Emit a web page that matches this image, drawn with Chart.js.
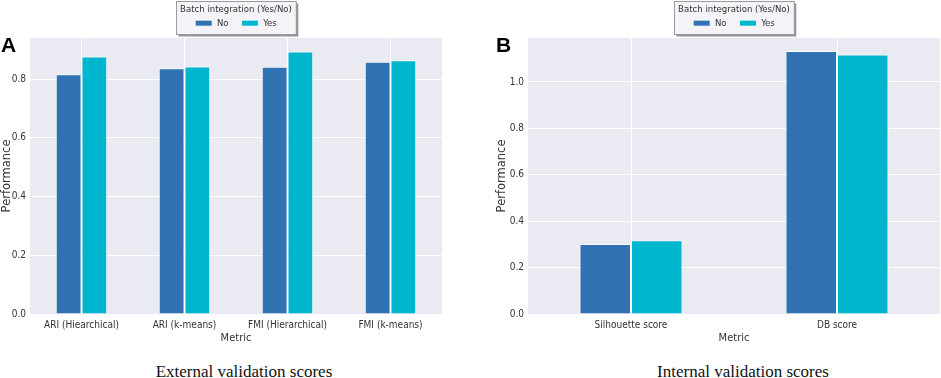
<!DOCTYPE html>
<html>
<head>
<meta charset="utf-8">
<script src="https://cdn.jsdelivr.net/npm/chart.js@4.4.1/dist/chart.umd.min.js"></script>
<style>
    body { margin: 0; background: #fff; width: 941px; height: 378px; overflow: hidden; position: relative; }
    .panel { position: absolute; top: 0; }
    .letter { position: absolute; top: 33px; font: bold 21px "Liberation Sans", Arial, sans-serif; color: #000; }
    .caption { position: absolute; top: 362px; font: 17px "Liberation Serif", "Times New Roman", serif; color: #111; text-align: center; white-space: nowrap; }
</style>
</head>
<body>
<div class="panel" style="left:0;width:470px;height:345px"><canvas id="chartA" width="470" height="345"></canvas></div>
<div class="panel" style="left:470px;width:471px;height:345px"><canvas id="chartB" width="471" height="345"></canvas></div>
<div class="letter" style="left:1px">A</div>
<div class="letter" style="left:496px">B</div>
<div class="caption" style="left:124px;width:240px">External validation scores</div>
<div class="caption" style="left:623px;width:240px">Internal validation scores</div>
<script>
(function () {
    "use strict";

    // Data
    const seriesNames = ["No", "Yes"];
    const legendTitle = "Batch integration (Yes/No)";

    const metricsA = ["ARI (Hiearchical)", "ARI (k-means)", "FMI (Hierarchical)", "FMI (k-means)"];
    const noA = [0.816, 0.837, 0.842, 0.859];
    const yesA = [0.877, 0.843, 0.894, 0.864];

    const metricsB = ["Silhouette score", "DB score"];
    const noB = [0.302, 1.134];
    const yesB = [0.318, 1.118];

    const colorNo = "#3172b3";
    const colorYes = "#00b6cf";
    const font = "'DejaVu Sans', sans-serif";
    const fontNarrow = "'DejaVu Sans Condensed', 'DejaVu Sans', sans-serif";

    // plot background + framed legend box
    const framePlugin = {
        id: "frame",
        beforeDraw(chart) {
            const ctx = chart.ctx;
            const a = chart.chartArea;
            ctx.save();
            ctx.fillStyle = "#eaeaf2";
            ctx.fillRect(a.left, a.top, a.right - a.left, a.bottom - a.top);

            const lg = chart.legend;
            ctx.font = "9.5px " + fontNarrow;
            const w = ctx.measureText(legendTitle).width + 8;
            const cx = lg.left + lg.width / 2;
            const x = Math.round(cx - w / 2) + 0.5;
            const y = Math.round(lg.top) + 0.5;
            const h = Math.round(lg.height) - 4;
            ctx.fillStyle = "rgba(60,60,60,0.55)";
            ctx.fillRect(x + 2, y + 2, w, h);
            ctx.fillStyle = "#f4f4f8";
            ctx.fillRect(x, y, w, h);
            ctx.strokeStyle = "#9a9a9a";
            ctx.lineWidth = 1;
            ctx.strokeRect(x, y, w, h);
            ctx.restore();
        },
    };

    function legendLabels(chart) {
        const items = Chart.defaults.plugins.legend.labels.generateLabels(chart);
        // extra gap after the first entry
        items[0].text = items[0].text + "\u00a0\u00a0\u00a0\u00a0";
        return items;
    }

    function makeChart(id, labels, no, yes, yMax, padLeft, padRight, yWidth) {
        const ctx = document.getElementById(id).getContext("2d");
        return new Chart(ctx, {
            type: "bar",
            data: {
                labels: labels,
                datasets: [
                    {
                        label: seriesNames[0],
                        data: no,
                        backgroundColor: colorNo,
                        borderColor: "rgba(255,255,255,0.85)",
                        borderWidth: 1,
                        categoryPercentage: 0.5,
                        barPercentage: 1,
                    },
                    {
                        label: seriesNames[1],
                        data: yes,
                        backgroundColor: colorYes,
                        borderColor: "rgba(255,255,255,0.85)",
                        borderWidth: 1,
                        categoryPercentage: 0.5,
                        barPercentage: 1,
                    },
                ],
            },
            options: {
                responsive: false,
                animation: false,
                layout: {
                    padding: { left: padLeft, right: padRight, top: 1, bottom: 0 },
                },
                plugins: {
                    tooltip: { enabled: false },
                    legend: {
                        position: "top",
                        fullSize: false,
                        title: {
                            display: true,
                            text: legendTitle,
                            color: "#333",
                            font: { family: fontNarrow, size: 9.5 },
                            padding: { top: 4, bottom: 0 },
                        },
                        labels: {
                            color: "#333",
                            boxWidth: 17,
                            boxHeight: 6,
                            padding: 2,
                            font: { family: fontNarrow, size: 9.5 },
                            generateLabels: legendLabels,
                        },
                    },
                },
                scales: {
                    x: {
                        grid: { color: "#ffffff", offset: false, drawTicks: false },
                        border: { display: false },
                        ticks: {
                            color: "#333",
                            padding: 5,
                            maxRotation: 0,
                            font: { family: fontNarrow, size: 10 },
                        },
                        title: {
                            display: true,
                            text: "Metric",
                            color: "#333",
                            padding: { top: 1, bottom: 0 },
                            font: { family: fontNarrow, size: 11 },
                        },
                        afterFit: function (scale) {
                            scale.height = 31;
                        },
                    },
                    y: {
                        min: 0,
                        max: yMax,
                        grid: { color: "#ffffff", drawTicks: false },
                        border: { display: false },
                        ticks: {
                            stepSize: 0.2,
                            includeBounds: false,
                            color: "#333",
                            padding: 4,
                            font: { family: fontNarrow, size: 10 },
                            callback: function (value) {
                                return value.toFixed(1);
                            },
                        },
                        title: {
                            display: true,
                            text: "Performance",
                            color: "#333",
                            padding: 0,
                            font: { family: font, size: 11.5 },
                        },
                        afterFit: function (scale) {
                            scale.width = yWidth;
                        },
                    },
                },
            },
            plugins: [framePlugin],
        });
    }

    makeChart("chartA", metricsA, noA, yesA, 0.94, 0, 28, 30);
    makeChart("chartB", metricsB, noB, yesB, 1.19, 25, 1, 33);
})();
</script>
</body>
</html>
